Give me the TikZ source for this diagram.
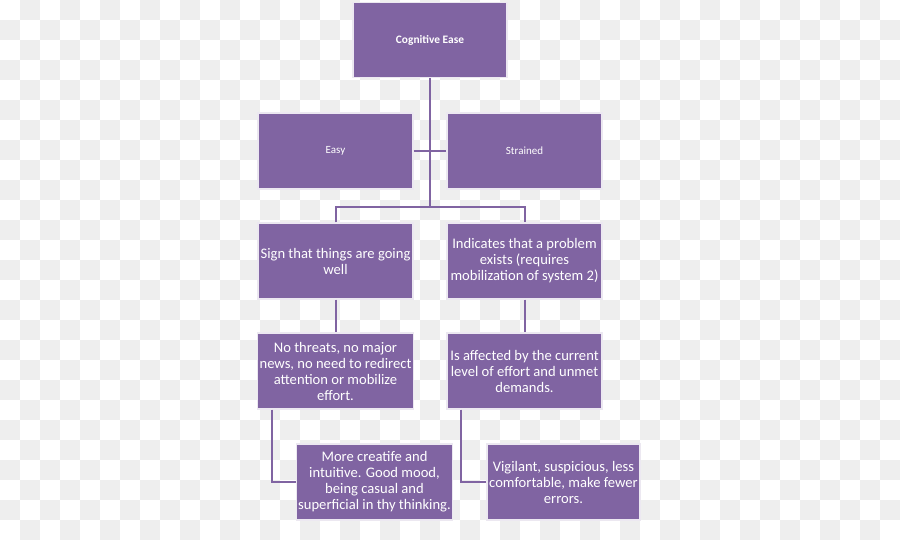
\documentclass[tikz,border=0pt]{standalone}
\usepackage{fontspec}
\setmainfont{Carlito}
\definecolor{easepurple}{HTML}{8064A2}
\definecolor{checkgray}{HTML}{EEEEEE}

\begin{document}
\begin{tikzpicture}[
  x=0.5pt, y=-0.5pt,
  card/.style={draw=white!85!easepurple, line width=0.6pt, fill=easepurple,
               text=white, align=center, minimum width=77.5pt, minimum height=38pt,
               inner sep=1pt, font=\fontsize{7.3}{8}\selectfont},
  small/.style={card, font=\fontsize{5.5}{6.5}\selectfont},
  link/.style={draw=easepurple, line width=1pt},
]
  % transparency checkerboard behind the chart
  \useasboundingbox (0,0) rectangle (900,540);
  \foreach \i in {0,...,44}
    \foreach \j in {0,...,26} {
      \pgfmathtruncatemacro{\odd}{mod(\i+\j,2)}
      \ifnum\odd=1 \fill[checkgray] (\i*20,\j*20) rectangle ++(20,20); \fi
    }

  % top of the tree
  \node[small, font=\fontsize{5.7}{6.5}\selectfont\bfseries, minimum width=77pt, minimum height=37.5pt]
    (ease) at (430,40) {Cognitive Ease};
  \node[small] (easy) at (335.5,151) {Easy};
  \node[small] (strained) at (524.5,151) {Strained};

  % two branches
  \node[card] (sign) at (335.5,261) {Sign that things are going\\ well};
  \node[card] (problem) at (524.5,261) {Indicates that a problem\\ exists (requires\\ mobilization of system 2)};
  \node[card] (calm) at (335.5,371) {No threats, no major\\ news, no need to redirect\\ attention or mobilize\\ effort.};
  \node[card] (affected) at (524.5,371) {Is affected by the current\\ level of effort and unmet\\ demands.};
  \node[card] (creative) at (374.5,482) {More creatife and\\ intuitive. Good mood,\\ being casual and\\ superficial in thy thinking.};
  \node[card, minimum width=76.5pt] (vigilant) at (563.5,482) {Vigilant, suspicious, less\\ comfortable, make fewer\\ errors.};

  \coordinate (fork) at (430,207);
  \draw[link] (ease.south) -- (fork);
  \draw[link] (easy.east) -- (strained.west);
  \draw[link] (sign.north) |- (fork) -| (problem.north);
  \draw[link] (sign) -- (calm);
  \draw[link] (problem) -- (affected);
  \draw[link] ([xshift=7.5pt]calm.south west) |- (creative.west);
  \draw[link] ([xshift=7.5pt]affected.south west) |- (vigilant.west);
\end{tikzpicture}
\end{document}
